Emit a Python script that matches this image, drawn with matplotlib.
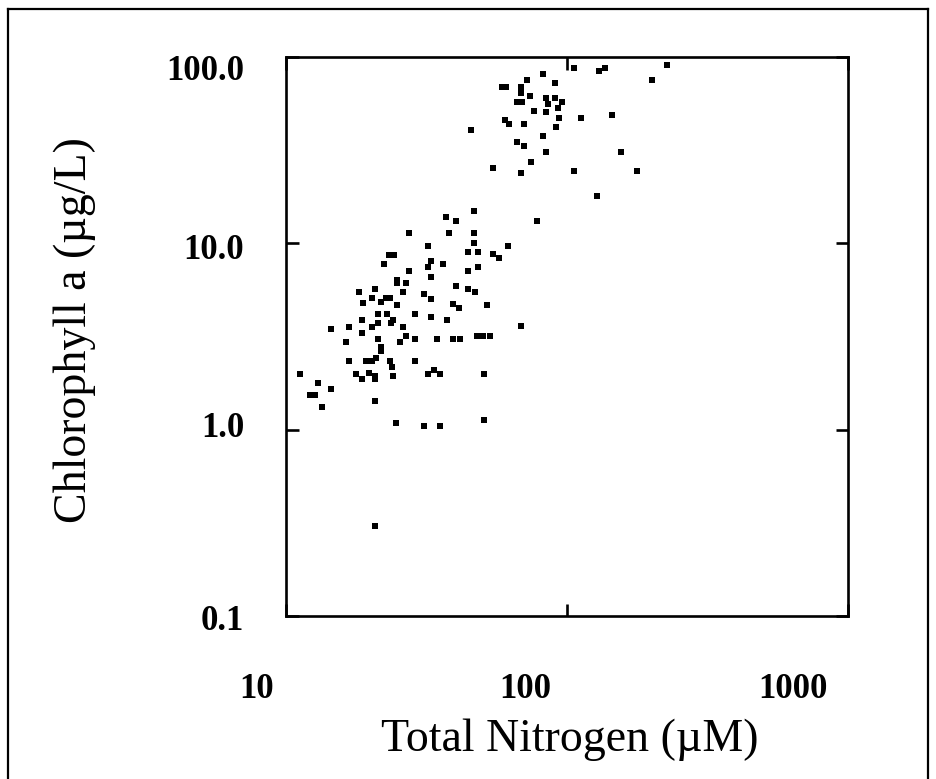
import numpy as np
import matplotlib
matplotlib.use("Agg")
import matplotlib.pyplot as plt
from matplotlib.lines import Line2D
from matplotlib.transforms import ScaledTranslation

# Total nitrogen (uM) and chlorophyll a (ug/L)
total_n = [
    106.2, 136.5, 130.0, 227.5, 200.0, 144.2, 155.6, 177.0, 82.4, 72.2,
    90.8, 58.6, 60.5, 68.4, 68.4, 74.0, 66.5, 69.2, 84.2, 90.6,
    96.0, 85.8, 93.1, 76.5, 84.2, 93.4, 111.9, 60.2, 62.2, 70.5,
    45.5, 91.2, 82.4, 66.5, 70.5, 84.2, 74.3, 54.4, 68.8, 106.2,
    128.2, 78.0, 46.8, 37.2, 40.2, 27.4, 38.1, 46.8, 46.8, 31.9,
    61.8, 44.6, 48.1, 54.4, 57.4, 23.3, 24.3, 22.4, 32.8, 31.9,
    36.3, 27.4, 44.6, 48.1, 32.8, 24.8, 24.8, 26.7, 40.3, 44.6,
    47.1, 18.2, 20.7, 26.0, 20.2, 21.8, 22.7, 23.4, 31.1, 32.8,
    24.8, 39.2, 41.4, 51.8, 18.75, 21.2, 22.8, 28.8, 32.8, 37.3,
    18.7, 24.1, 23.6, 68.7, 14.5, 16.8, 20.2, 21.2, 26.0, 18.7,
    26.8, 21.2, 28.8, 34.6, 39.4, 41.6, 47.7, 50.4, 53.2, 16.4,
    25.5, 21.8, 21.8, 16.8, 19.3, 20.2, 20.9, 23.5, 23.9, 28.8,
    11.2, 17.7, 18.7, 19.7, 20.8, 20.8, 24.1, 31.9, 33.6, 35.3,
    50.5, 13.05, 14.5, 12.2, 12.7, 13.4, 20.7, 24.7, 31.1, 35.3,
    50.5, 20.7,
]
chl_a = [
    87.6, 87.6, 84.1, 90.6, 75.0, 48.9, 30.9, 24.4, 81.0, 75.2,
    72.3, 69.3, 69.3, 68.8, 64.3, 62.0, 57.1, 57.1, 60.0, 60.0,
    57.5, 55.7, 53.0, 51.3, 50.8, 47.2, 47.2, 45.9, 43.5, 43.7,
    40.6, 42.3, 37.7, 34.8, 33.4, 31.0, 27.4, 25.5, 23.8, 24.5,
    18.0, 13.2, 14.9, 13.8, 13.2, 11.4, 11.4, 11.4, 10.1, 9.73,
    9.73, 9.02, 9.02, 8.73, 8.37, 8.65, 8.65, 7.74, 8.04, 7.43,
    7.74, 7.13, 7.13, 7.43, 6.62, 6.39, 6.10, 6.14, 5.90, 5.69,
    5.46, 5.46, 5.71, 5.46, 5.06, 4.87, 5.07, 5.07, 5.32, 5.02,
    4.67, 4.70, 4.50, 4.69, 4.80, 4.17, 4.17, 4.17, 4.01, 3.88,
    3.88, 3.88, 3.72, 3.58, 3.45, 3.57, 3.57, 3.72, 3.57, 3.32,
    3.18, 3.08, 3.08, 3.08, 3.08, 3.08, 3.19, 3.19, 3.19, 2.96,
    2.95, 2.77, 2.65, 2.34, 2.34, 2.34, 2.42, 2.34, 2.18, 2.34,
    2.00, 2.00, 1.86, 2.01, 1.94, 1.86, 1.93, 2.00, 2.10, 2.00,
    2.00, 1.79, 1.65, 1.53, 1.53, 1.32, 1.42, 1.085, 1.048, 1.048,
    1.13, 0.304,
]

x_ticks = [10, 100, 1000]
x_labels = ["10", "100", "1000"]
y_ticks = [0.1, 1, 10, 100]
y_labels = ["0.1", "1.0", "10.0", "100.0"]

serif = ["Liberation Serif", "DejaVu Serif"]

fig = plt.figure(figsize=(9.37, 7.79), dpi=100)
ax = fig.add_axes([286 / 937, 1 - 616 / 779, 562 / 937, 559 / 779])

ax.plot(total_n, chl_a, linestyle="none", marker="s", markersize=4.0,
        color="black", markeredgewidth=0)

ax.set_xscale("log")
ax.set_yscale("log")
ax.set_xlim(10, 1000)
ax.set_ylim(0.1, 100)

ax.set_xticks(x_ticks)
ax.set_xticklabels(x_labels)
ax.set_yticks(y_ticks)
ax.set_yticklabels(y_labels)
ax.minorticks_off()

for s in ax.spines.values():
    s.set_linewidth(1.9)

ax.tick_params(axis="both", which="major", direction="in", length=9,
               width=1.9, top=True, right=True)
ax.tick_params(axis="x", pad=41)
ax.tick_params(axis="y", pad=30)

for lab in ax.get_xticklabels() + ax.get_yticklabels():
    lab.set_fontfamily(serif)
    lab.set_fontweight("bold")
    lab.set_fontsize(25)

# labels in the original sit a little off their ticks
x_shift = [-29, -42, -55]
for lab, dx in zip(ax.get_xticklabels(), x_shift):
    lab.set_transform(lab.get_transform() + ScaledTranslation(dx / 100, 0, fig.dpi_scale_trans))
y_shift = [-2, 5, -3, -10]
for lab, dy in zip(ax.get_yticklabels(), y_shift):
    lab.set_transform(lab.get_transform() + ScaledTranslation(0, dy / 100, fig.dpi_scale_trans))

ax.set_xlabel("Total Nitrogen (µM)", fontsize=33, family=serif)
ax.xaxis.set_label_coords(0.505, -0.222)
ax.xaxis.label.set_va("center")
ax.set_ylabel("Chlorophyll a (µg/L)", fontsize=33, family=serif)
ax.yaxis.set_label_coords(-0.375, 0.512)
ax.yaxis.label.set_va("center")

# outer frame
fig.add_artist(Line2D([8 / 937, 8 / 937], [0, 1 - 9 / 779], color="black", lw=1.6))
fig.add_artist(Line2D([8 / 937, 928 / 937], [1 - 9 / 779, 1 - 9 / 779], color="black", lw=1.6))
fig.add_artist(Line2D([928 / 937, 928 / 937], [0, 1 - 9 / 779], color="black", lw=1.6))

fig.savefig("out.png", dpi=100)
